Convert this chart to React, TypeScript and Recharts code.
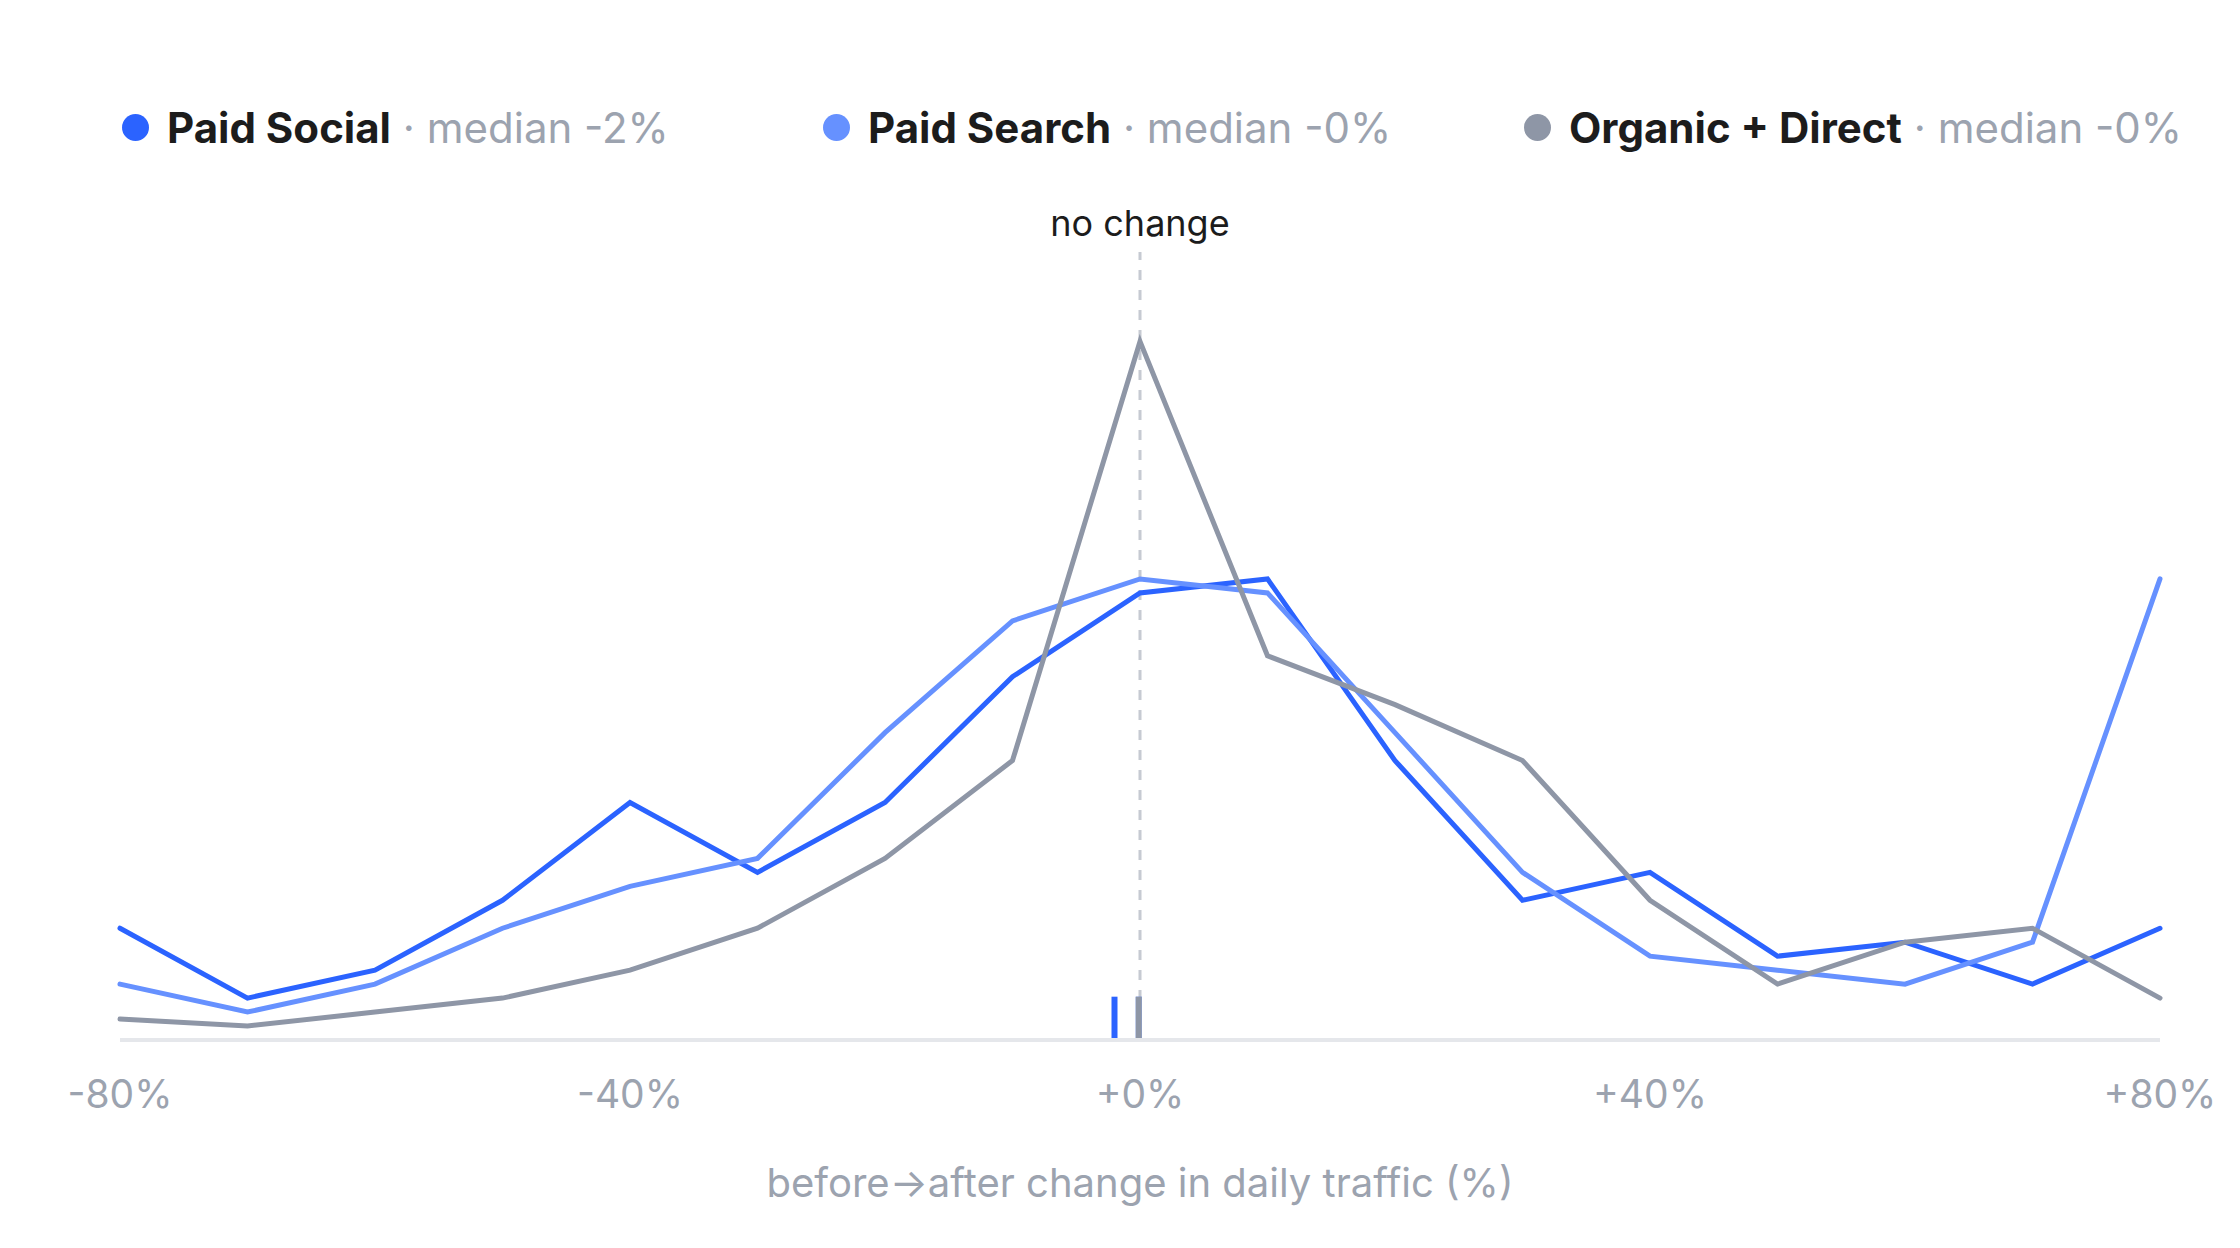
import { LineChart, Line, XAxis, YAxis, ReferenceLine, Label } from 'recharts';

// change bins, before→after (%)
const bins = [-80, -70, -60, -50, -40, -30, -20, -10, 0, 10, 20, 30, 40, 50, 60, 70, 80];

// share of days per bin
const paidSocial = [8, 3, 5, 10, 17, 12, 17, 26, 32, 33, 20, 10, 12, 6, 7, 4, 8];
const paidSearch = [4, 2, 4, 8, 11, 13, 22, 30, 33, 32, 22, 12, 6, 5, 4, 7, 33];
const organicDirect = [1.5, 1, 2, 3, 5, 8, 13, 20, 50, 27.5, 24, 20, 10, 4, 7, 8, 3];

const seriesNames = ['Paid Social', 'Paid Search', 'Organic + Direct'];
const seriesKeys = ['social', 'search', 'organic'];
const seriesColors = ['#2b63ff', '#6691ff', '#8e96a6'];
const medians = [-2, -0.1, -0.1];

const xTicks = [-80, -40, 0, 40, 80];

const Y_MAX = 56.4;
const MARKER_H = 3.1;

const MUTED = '#9ca3af';

const chartData = bins.map((x, i) => ({
  x,
  social: paidSocial[i],
  search: paidSearch[i],
  organic: organicDirect[i],
}));

const fmtTick = (v: number) => `${v >= 0 ? '+' : ''}${v}%`;

function LegendRow() {
  return (
    <div style={{ position: 'absolute', top: 99, left: 122, display: 'flex', zIndex: 2 }}>
      {seriesNames.map((name, i) => (
        <div key={name} style={{ width: 701, display: 'flex', alignItems: 'center', height: 56 }}>
          <span
            style={{
              width: 27,
              height: 27,
              borderRadius: '50%',
              background: seriesColors[i],
              display: 'inline-block',
              marginRight: 18,
            }}
          />
          <span style={{ fontSize: 42, fontWeight: 700, color: '#1c1c1c', whiteSpace: 'pre' }}>{name}</span>
          <span style={{ fontSize: 42, color: MUTED, whiteSpace: 'pre' }}>
            {` · median ${medians[i].toFixed(0)}%`}
          </span>
        </div>
      ))}
    </div>
  );
}

export default function App() {
  return (
    <div style={{ position: 'relative', width: 2240, height: 1248, background: '#fff', fontFamily: 'Inter, sans-serif' }}>
      <style>{'body{margin:0}'}</style>
      <LegendRow />
      <LineChart width={2240} height={1248} data={chartData} margin={{ top: 252, right: 80, left: 120, bottom: 0 }}>
        <XAxis
          dataKey="x"
          type="number"
          domain={[-80, 80]}
          ticks={xTicks}
          tickFormatter={fmtTick}
          tickLine={false}
          tickMargin={34}
          axisLine={{ stroke: '#e5e7eb', strokeWidth: 4 }}
          tick={{ fill: MUTED, fontSize: 39 }}
          height={208}
        >
          <Label
            value="before→after change in daily traffic (%)"
            position="insideBottom"
            offset={51}
            fill={MUTED}
            fontSize={40}
          />
        </XAxis>
        <YAxis hide domain={[0, Y_MAX]} />
        <ReferenceLine x={0} stroke="#c6cad2" strokeWidth={3} strokeDasharray="10 10">
          <Label value="no change" position="top" offset={16} fill="#1c1c1c" fontSize={36} />
        </ReferenceLine>
        {seriesKeys.map((k, i) => (
          <Line
            key={k}
            dataKey={k}
            type="linear"
            stroke={seriesColors[i]}
            strokeWidth={5}
            strokeLinecap="round"
            dot={false}
            activeDot={false}
            isAnimationActive={false}
          />
        ))}
        {medians.map((m, i) => (
          <ReferenceLine
            key={seriesKeys[i]}
            segment={[
              { x: m, y: 0 },
              { x: m, y: MARKER_H },
            ]}
            stroke={seriesColors[i]}
            strokeWidth={6}
          />
        ))}
      </LineChart>
    </div>
  );
}
